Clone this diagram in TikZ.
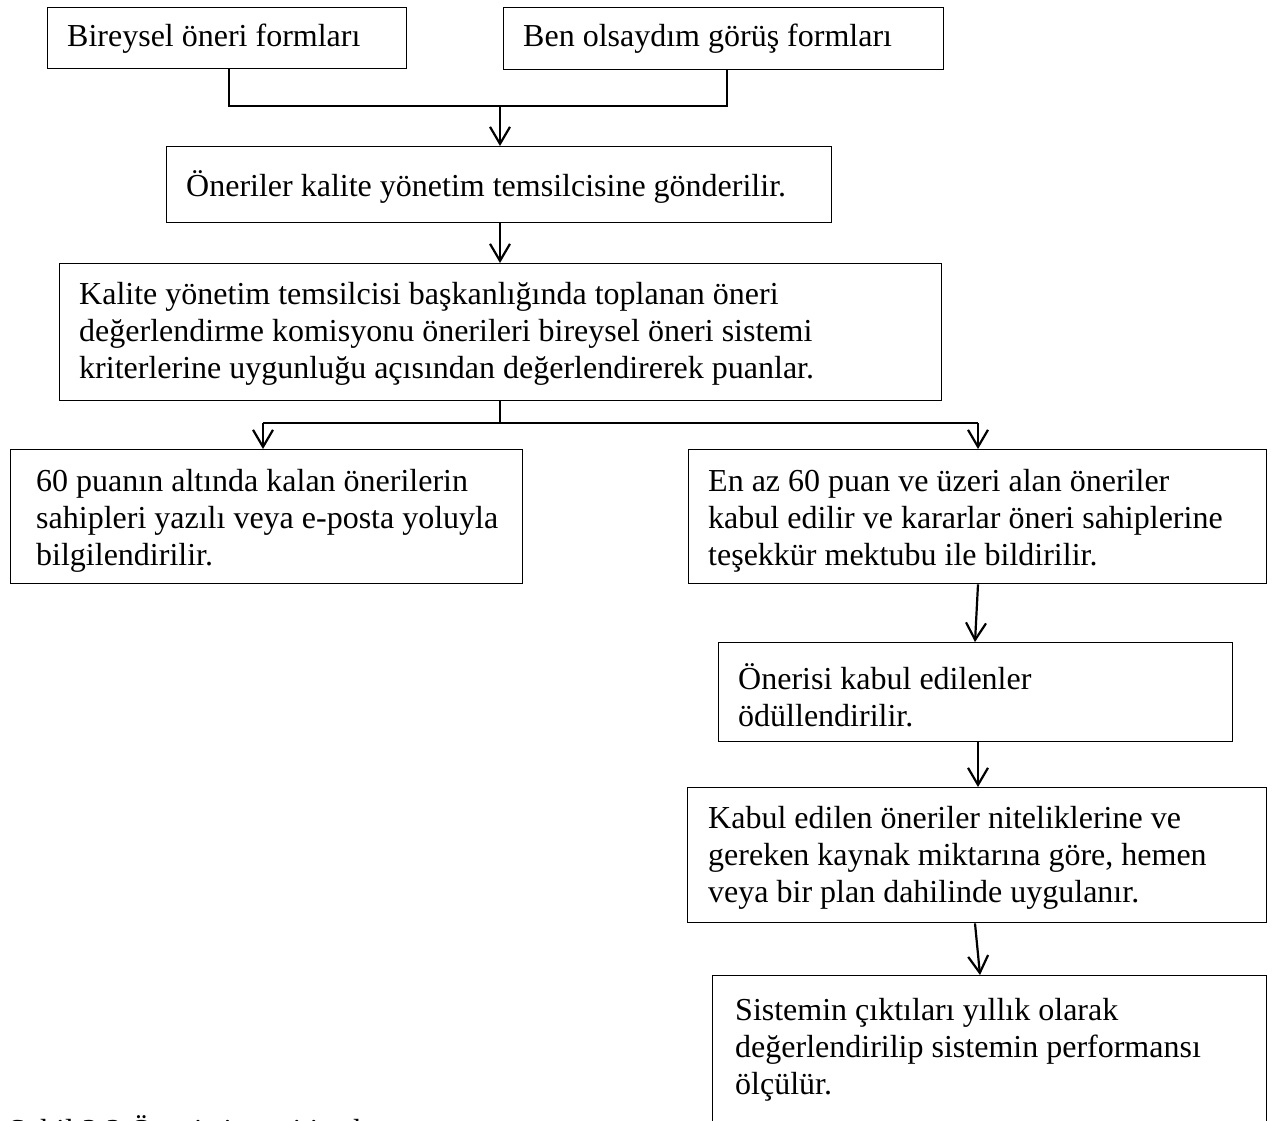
\documentclass[tikz,border=0pt]{standalone}
\usepackage{fontspec}
\setmainfont{Liberation Serif}
\usetikzlibrary{arrows.meta}
\begin{document}
\begin{tikzpicture}[x=1pt,y=-1pt,
  box/.style={draw,line width=1.4pt,inner sep=0pt,anchor=north west},
  txt/.style={anchor=west,align=left,inner sep=0pt,font=\fontsize{32}{37}\selectfont},
  conn/.style={line width=2.2pt},
  arr/.style={line width=2.2pt,-{Straight Barb[length=17pt,width=20pt,line width=2.2pt]}}]
\useasboundingbox[fill=white] (0,0) rectangle (1274,1120);
% boxes
\node[box,minimum width=359pt,minimum height=61pt] (b1) at (47,7) {};
\node[box,minimum width=440pt,minimum height=62pt] (b2) at (503,7) {};
\node[box,minimum width=665pt,minimum height=76pt] (b3) at (166,146) {};
\node[box,minimum width=882pt,minimum height=137pt] (b4) at (59,263) {};
\node[box,minimum width=512pt,minimum height=134pt] (b5) at (10,449) {};
\node[box,minimum width=578pt,minimum height=134pt] (b6) at (688,449) {};
\node[box,minimum width=514pt,minimum height=99pt] (b7) at (718,642) {};
\node[box,minimum width=579pt,minimum height=135pt] (b8) at (687,787) {};
\node[box,minimum width=554pt,minimum height=170pt] (b9) at (712,975) {};
% texts
\node[txt] (t1) at ([xshift=20pt]b1.west) {Bireysel öneri formları};
\node[txt] (t2) at ([xshift=20pt]b2.west) {Ben olsaydım görüş formları};
\node[txt] (t3) at ([xshift=20pt,yshift=-2pt]b3.west) {Öneriler kalite yönetim temsilcisine gönderilir.};
\node[txt] (t4) at ([xshift=20pt,yshift=-2pt]b4.west) {Kalite yönetim temsilcisi başkanlığında toplanan öneri\\değerlendirme komisyonu önerileri bireysel öneri sistemi\\kriterlerine uygunluğu açısından değerlendirerek puanlar.};
\node[txt] (t5) at ([xshift=26pt,yshift=-4pt]b5.west) {60 puanın altında kalan önerilerin\\sahipleri yazılı veya e-posta yoluyla\\bilgilendirilir.};
\node[txt] (t6) at ([xshift=20pt,yshift=-4pt]b6.west) {En az 60 puan ve üzeri alan öneriler\\kabul edilir ve kararlar öneri sahiplerine\\teşekkür mektubu ile bildirilir.};
\node[txt] (t7) at ([xshift=20pt,yshift=-3pt]b7.west) {Önerisi kabul edilenler\\ödüllendirilir.};
\node[txt] (t8) at ([xshift=21pt,yshift=-3pt]b8.west) {Kabul edilen öneriler niteliklerine ve\\gereken kaynak miktarına göre, hemen\\veya bir plan dahilinde uygulanır.};
\node[txt] (t9) at ([xshift=23pt,yshift=-75pt]b9.north west) {Sistemin çıktıları yıllık olarak\\değerlendirilip sistemin performansı\\ölçülür.};
\node[anchor=base west,inner sep=0pt,font=\fontsize{32}{37}\selectfont] (cap) at (8,1141) {Şekil 3.2 Öneri sistemi iş akışı};
% connector coordinates
\coordinate (j1) at (229,106);
\coordinate (j2) at (727,106);
\coordinate (j3) at (500,106);
\coordinate (k1) at (500,423);
\coordinate (k2) at (263,423);
\coordinate (k3) at (978,423);
% connectors
\draw[conn] (b1.south -| j1) -- (j1) -- (j2) -- (b2.south -| j2);
\draw[arr] (j3) -- (b3.north -| j3);
\draw[arr] (b3.south -| j3) -- (b4.north -| j3);
\draw[conn] (b4.south -| k1) -- (k1);
\draw[conn] (k2) -- (k3);
\draw[arr] (k2) -- (b5.north -| k2);
\draw[arr] (k3) -- (b6.north -| k3);
\draw[arr] ([xshift=290pt]b6.south west) -- ([xshift=257pt]b7.north west);
\draw[arr] ([xshift=260pt]b7.south west) -- ([xshift=291pt]b8.north west);
\draw[arr] ([xshift=288pt]b8.south west) -- ([xshift=268pt]b9.north west);
\end{tikzpicture}
\end{document}
